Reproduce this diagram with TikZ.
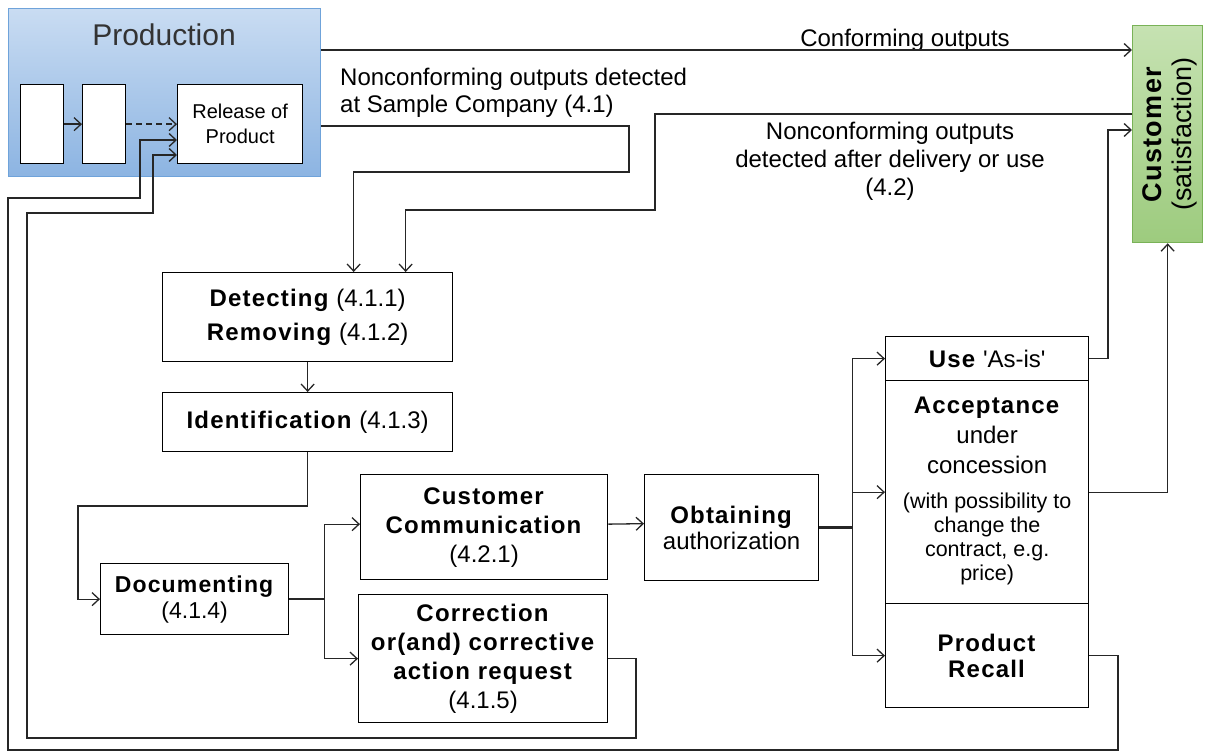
\documentclass[tikz,border=0pt]{standalone}
\usepackage{fontspec}
\setmainfont{Liberation Sans}[BoldFeatures={LetterSpace=5}]
\usetikzlibrary{arrows.meta,calc}
\definecolor{prodtop}{HTML}{C9DCF2}
\definecolor{prodbot}{HTML}{8CB4E2}
\definecolor{prodline}{HTML}{6FA3DA}
\definecolor{custtop}{HTML}{C6E2B2}
\definecolor{custbot}{HTML}{9DCB7E}
\definecolor{custline}{HTML}{79B257}
\tikzset{
  box/.style={draw, line width=1.3pt, fill=white, inner sep=0pt, align=center, anchor=north west},
  conn/.style={line width=1.3pt, draw=black!85},
  arr/.style={conn, -{Straight Barb[length=7pt,width=13pt,line width=1.3pt]}},
  stub/.style={line width=2.6pt, draw=black!85},
  lbl/.style={inner sep=0pt, align=center},
  txt/.style={font=\fontsize{24}{27}\selectfont}
}
\begin{document}
\begin{tikzpicture}[x=1pt,y=-1pt]
\useasboundingbox (0,0) rectangle (1208,754);
% Production
\node[anchor=north west, minimum width=312pt, minimum height=168pt, top color=prodtop, bottom color=prodbot, draw=prodline, line width=1.3pt, inner sep=0pt] (prod) at (8,8) {};
\node[lbl, font=\fontsize{30}{34}\selectfont, text=black!80] (prodlbl) at (164,35) {Production};
\node[box, minimum width=43pt, minimum height=79pt] (b1) at (20,84) {};
\node[box, minimum width=43pt, minimum height=79pt] (b2) at (82,84) {};
\node[box, minimum width=125pt, minimum height=79pt, font=\fontsize{20}{25}\selectfont] (rel) at (177,84) {Release of\\Product};
\draw[arr] (b1.east) -- (b2.west);
\draw[arr, dashed, dash pattern=on 6pt off 4pt] (b2.east) -- (rel.west);
% Customer
\node[anchor=north west, minimum width=70pt, minimum height=217pt, top color=custtop, bottom color=custbot, draw=custline, line width=1.3pt, inner sep=0pt] (cust) at (1132,25) {};
\node[lbl, rotate=90, font=\fontsize{27}{30}\selectfont] (custlbl) at ($(cust.center)+(2,0)$) {\textbf{Customer}\\(satisfaction)};
% main boxes
\node[box, minimum width=290pt, minimum height=89pt, font=\fontsize{24}{34}\selectfont] (det) at (162,272) {\textbf{Detecting} (4.1.1)\\\textbf{Removing} (4.1.2)};
\node[box, minimum width=290pt, minimum height=59pt, txt] (ident) at (162,392) {\textbf{Identification} (4.1.3)};
\node[box, minimum width=188pt, minimum height=71pt, font=\fontsize{23}{26}\selectfont] (doc) at (100,563) {\textbf{Documenting}\\(4.1.4)};
\node[box, minimum width=247pt, minimum height=105pt, font=\fontsize{24}{29}\selectfont] (cc) at (360,474) {\textbf{Customer}\\\textbf{Communication}\\(4.2.1)};
\node[box, minimum width=249pt, minimum height=128pt, font=\fontsize{24}{29}\selectfont] (cor) at (358,594) {\textbf{Correction}\\\textbf{or(and) corrective}\\\textbf{action request}\\(4.1.5)};
\node[box, minimum width=174pt, minimum height=106pt, font=\fontsize{24}{26}\selectfont] (ob) at (644,474) {\textbf{Obtaining}\\authorization};
\node[box, minimum width=203pt, minimum height=44pt, txt] (use) at (885,336) {\textbf{Use} \textquotesingle As-is\textquotesingle};
\node[box, minimum width=203pt, minimum height=223pt, font=\fontsize{24}{30}\selectfont] (acc) at (885,380) {\textbf{Acceptance}\\under\\concession\\[5pt]{\fontsize{21.5}{24}\selectfont\begin{tabular}[t]{@{}c@{}}(with possibility to\\change the\\contract, e.g.\\price)\end{tabular}}};
\node[box, minimum width=203pt, minimum height=104pt, font=\fontsize{24}{26}\selectfont] (rec) at (885,603) {\textbf{Product}\\\textbf{Recall}};
% labels
\node[lbl, txt, anchor=north west, align=left] (l41) at (340,68) {Nonconforming outputs detected\\at Sample Company (4.1)};
\node[lbl, txt] (lconf) at (905,40) {Conforming outputs};
\node[lbl, font=\fontsize{24}{28}\selectfont] (l42) at (890,161) {Nonconforming outputs\\detected after delivery or use\\(4.2)};
% connectors
\draw[arr] (prod.east |- 0,50) -- (cust.west |- 0,50);
\draw[arr] (prod.east |- 0,126) -| (629,172) -| ($(det.north)+(46,0)$);
\draw[arr] (cust.west |- 0,114) -| (655,210) -| ($(det.north)+(98,0)$);
\draw[arr] (use.east) -| (1108,130) -- (cust.west |- 0,130);
\draw[arr] (acc.east) -| (cust.south);
\draw[arr] (det.south) -- (ident.north);
\draw[arr] (ident.south) |- (78,506) |- (doc.west);
\draw[stub] (doc.east) -- ++(35,0) coordinate (j1);
\draw[arr] (j1) |- ($(cc.west)+(0,-3)$);
\draw[arr] (j1) |- (cor.west);
\draw[arr] ($(cc.east)+(0,-3)$) -- ($(ob.west)+(0,-4)$);
\draw[stub] (ob.east) -- ++(33,0) coordinate (j2);
\draw[arr] (j2) |- (use.west);
\draw[arr] (j2) |- (acc.west);
\draw[arr] (j2) |- (rec.west);
\draw[arr] (rec.east) -| (1118,750) -| (8,198) -| (140,140) -- (rel.west |- 0,140);
\draw[arr] (cor.east) -| (636,738) -| (27,213) -| (153,155) -- (rel.west |- 0,155);
\end{tikzpicture}
\end{document}
